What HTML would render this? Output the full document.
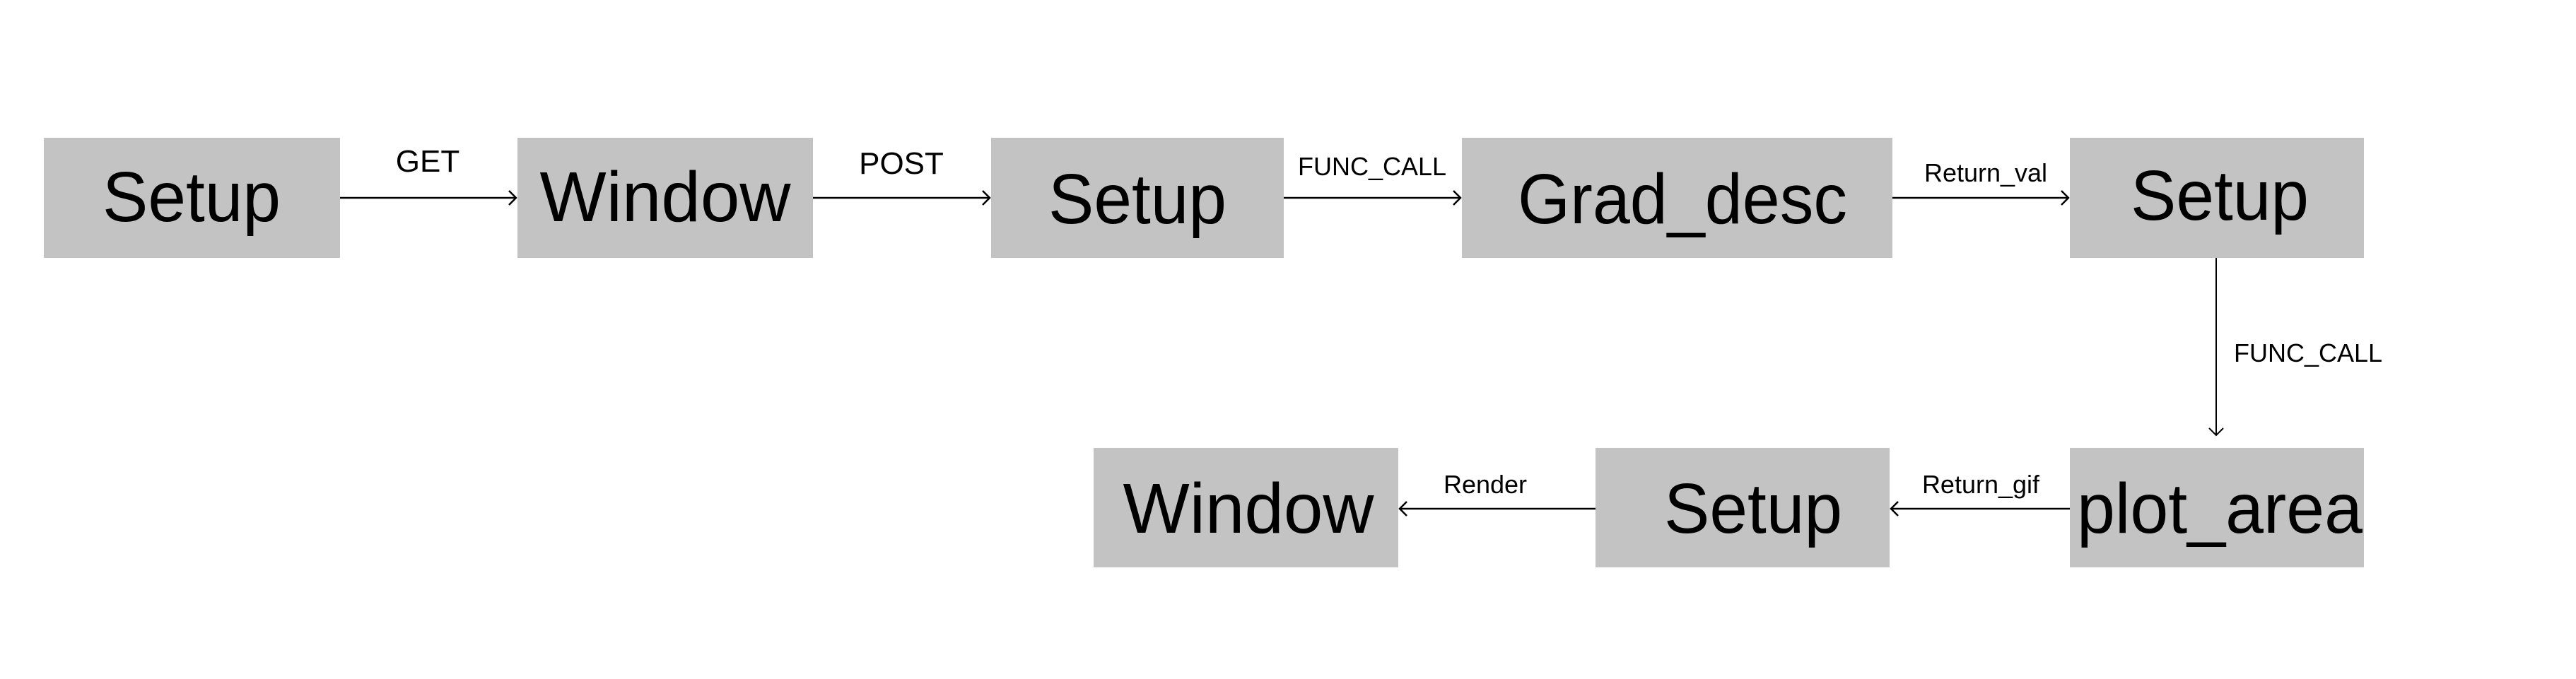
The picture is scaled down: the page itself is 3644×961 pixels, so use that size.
<!DOCTYPE html>
<html><head><meta charset="utf-8"><style>html,body{margin:0;padding:0;background:#fff}svg{display:block}</style></head>
<body>
<svg width="3644" height="961" viewBox="0 0 3644 961" xmlns="http://www.w3.org/2000/svg" font-family="Liberation Sans, sans-serif">
<g fill="#c3c3c3">
<rect x="62" y="195" width="419" height="170"/>
<rect x="732" y="195" width="418" height="170"/>
<rect x="1402" y="195" width="414" height="170"/>
<rect x="2068" y="195" width="609" height="170"/>
<rect x="2928" y="195" width="416" height="170"/>
<rect x="1547" y="634" width="431" height="169"/>
<rect x="2257" y="634" width="416" height="169"/>
<rect x="2928" y="634" width="416" height="169"/>
</g>
<g font-size="100" text-anchor="middle" fill="#000">
<text x="271" y="313" textLength="252" lengthAdjust="spacingAndGlyphs">Setup</text>
<text x="941" y="313" textLength="355" lengthAdjust="spacingAndGlyphs">Window</text>
<text x="1609" y="316" textLength="252" lengthAdjust="spacingAndGlyphs">Setup</text>
<text x="2380" y="316" textLength="466" lengthAdjust="spacingAndGlyphs">Grad_desc</text>
<text x="3140" y="311" textLength="252" lengthAdjust="spacingAndGlyphs">Setup</text>
<text x="1766" y="754" textLength="355" lengthAdjust="spacingAndGlyphs">Window</text>
<text x="2480" y="754" textLength="252" lengthAdjust="spacingAndGlyphs">Setup</text>
<text x="3140" y="754" textLength="404" lengthAdjust="spacingAndGlyphs">plot_area</text>
</g>
<g stroke="#000" stroke-width="2.5" fill="none">
<line x1="481" y1="280" x2="730" y2="280"/><polyline points="720,270 730,280 720,290"/>
<line x1="1150" y1="280" x2="1400" y2="280"/><polyline points="1390,270 1400,280 1390,290"/>
<line x1="1816" y1="280" x2="2066" y2="280"/><polyline points="2056,270 2066,280 2056,290"/>
<line x1="2677" y1="280" x2="2926" y2="280"/><polyline points="2916,270 2926,280 2916,290"/>
<line x1="3135" y1="365" x2="3135" y2="616" stroke-width="2"/><polyline points="3125,606 3135,616 3145,606" stroke-width="2"/>
<line x1="2928" y1="720" x2="2675" y2="720"/><polyline points="2685,710 2675,720 2685,730"/>
<line x1="2257" y1="720" x2="1980" y2="720"/><polyline points="1990,710 1980,720 1990,730"/>
</g>
<g fill="#000" text-anchor="middle">
<text x="605" y="243" font-size="44">GET</text>
<text x="1275" y="246" font-size="44">POST</text>
<text x="1941" y="248" font-size="36">FUNC_CALL</text>
<text x="2809" y="257" font-size="36">Return_val</text>
<text x="2101" y="698" font-size="36">Render</text>
<text x="2802" y="698" font-size="36">Return_gif</text>
<text x="3160" y="512" font-size="36" text-anchor="start">FUNC_CALL</text>
</g>
</svg>
</body></html>
